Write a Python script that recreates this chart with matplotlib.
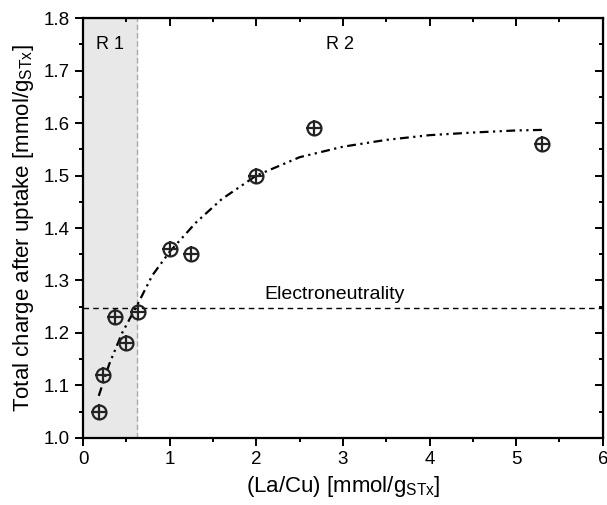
import numpy as np
import matplotlib.pyplot as plt
from matplotlib.ticker import MultipleLocator

plt.rcParams['font.family'] = ['Liberation Sans', 'DejaVu Sans']
plt.rcParams['mathtext.fontset'] = 'custom'
plt.rcParams['mathtext.rm'] = 'Liberation Sans'

# datos medidos
x_pts = [0.18, 0.23, 0.37, 0.50, 0.63, 1.00, 1.25, 2.00, 2.67, 5.30]
y_pts = [1.05, 1.12, 1.23, 1.18, 1.24, 1.36, 1.35, 1.50, 1.59, 1.56]

# curva de ajuste
x_fit = [0.18, 0.30, 0.45, 0.63, 0.80, 1.00, 1.30, 1.60, 2.00, 2.50, 3.00, 3.50, 4.00, 4.50, 5.00, 5.30]
y_fit = [1.08, 1.14, 1.20, 1.255, 1.31, 1.355, 1.41, 1.455, 1.50, 1.535, 1.555, 1.568, 1.577, 1.582, 1.586, 1.587]

r1_limit = 0.62
electroneutral = 1.248

fig = plt.figure(figsize=(6.07, 5.05), dpi=100)
ax = fig.add_axes([0.137, 0.133, 0.856, 0.831])

ax.axvspan(0, r1_limit, color='#e8e8e8', zorder=0)
ax.axvline(r1_limit, color='#aaaaaa', ls=(0, (4, 2)), lw=1, zorder=1)
ax.axhline(electroneutral, color='black', ls=(0, (4, 3)), lw=1, zorder=1)

ax.plot(x_fit, y_fit, color='black', lw=1.6, ls=(0, (4, 2, 1, 2, 1, 2)), zorder=2)

ax.plot(x_pts, y_pts, 'o', ms=10, mfc='none', mec='#222222', mew=1.6, zorder=3)
ax.plot(x_pts, y_pts, '+', ms=12, mec='#222222', mew=1.6, zorder=3)

ax.text(0.31, 1.75, 'R 1', fontsize=13, ha='center', va='center')
ax.text(2.97, 1.75, 'R 2', fontsize=13, ha='center', va='center')
ax.text(2.9, 1.273, 'Electroneutrality', fontsize=14, ha='center', va='center')

ax.set_xlim(0, 6)
ax.set_ylim(1.0, 1.8)
ax.xaxis.set_major_locator(MultipleLocator(1))
ax.xaxis.set_minor_locator(MultipleLocator(0.5))
ax.yaxis.set_major_locator(MultipleLocator(0.1))
ax.yaxis.set_minor_locator(MultipleLocator(0.05))
ax.yaxis.set_major_formatter(plt.FormatStrFormatter('%.1f'))

for s in ax.spines.values():
    s.set_linewidth(1.6)
ax.tick_params(which='both', direction='out', width=1.4, labelsize=13.5)
ax.tick_params(which='major', length=6)
ax.tick_params(which='minor', length=3)

# ejes espejo con ticks hacia dentro
axt = ax.secondary_xaxis('top')
axt.xaxis.set_major_locator(MultipleLocator(1))
axt.xaxis.set_minor_locator(MultipleLocator(0.5))
axt.tick_params(which='both', direction='in', width=1.4, labeltop=False)
axt.tick_params(which='major', length=6)
axt.tick_params(which='minor', length=3)
axr = ax.secondary_yaxis('right')
axr.yaxis.set_major_locator(MultipleLocator(0.1))
axr.yaxis.set_minor_locator(MultipleLocator(0.05))
axr.tick_params(which='both', direction='in', width=1.4, labelright=False)
axr.tick_params(which='major', length=6)
axr.tick_params(which='minor', length=3)

ax.set_xlabel(r'(La/Cu) [mmol/g$_{\mathregular{STx}}$]', fontsize=16, labelpad=4)
ax.set_ylabel(r'Total charge after uptake [mmol/g$_{\mathregular{STx}}$]', fontsize=16, labelpad=6)

fig.savefig('out.png', dpi=100)
